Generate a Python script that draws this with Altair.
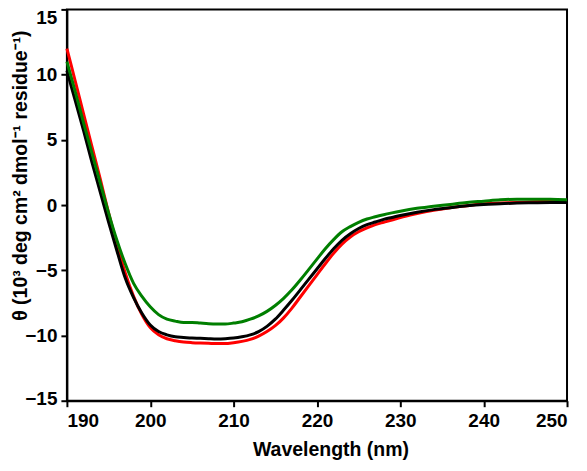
import altair as alt
import pandas as pd

wavelength = [190, 191, 192, 193, 194, 195, 196, 197, 198, 199, 200, 201, 202, 203, 204,
              205, 206, 207, 208, 209, 210, 211, 212, 213, 214, 215, 216, 217, 218, 219,
              220, 221, 222, 223, 224, 225, 226, 227, 228, 229, 230, 232, 234, 236, 238,
              240, 242, 244, 246, 248, 250]

black = [10.3, 8.0, 5.7, 3.3, 1.0, -1.3, -3.5, -5.6, -7.1, -8.3, -9.2, -9.7, -9.95, -10.1,
         -10.15, -10.2, -10.22, -10.25, -10.27, -10.25, -10.2, -10.1, -9.95, -9.7, -9.3,
         -8.75, -8.05, -7.3, -6.5, -5.7, -4.9, -4.1, -3.35, -2.7, -2.2, -1.8, -1.5, -1.3,
         -1.1, -0.95, -0.8, -0.55, -0.35, -0.2, -0.05, 0.05, 0.1, 0.15, 0.18, 0.2, 0.2]

red = [12.0, 9.5, 7.0, 4.5, 2.0, -0.6, -3.0, -5.2, -7.0, -8.4, -9.4, -9.95, -10.25, -10.4,
       -10.5, -10.55, -10.58, -10.6, -10.62, -10.62, -10.55, -10.45, -10.3, -10.05, -9.7,
       -9.25, -8.65, -7.9, -7.05, -6.2, -5.35, -4.5, -3.7, -3.0, -2.45, -2.05, -1.75, -1.5,
       -1.32, -1.15, -0.95, -0.65, -0.4, -0.2, -0.05, 0.1, 0.15, 0.2, 0.25, 0.3, 0.35]

green = [11.0, 8.7, 6.3, 4.0, 1.7, -0.6, -2.7, -4.5, -6.0, -7.0, -7.8, -8.4, -8.75, -8.9,
         -9.0, -9.0, -9.05, -9.1, -9.12, -9.12, -9.05, -8.95, -8.75, -8.5, -8.15, -7.7,
         -7.15, -6.5, -5.75, -4.95, -4.15, -3.35, -2.65, -2.05, -1.65, -1.32, -1.07, -0.9,
         -0.74, -0.6, -0.47, -0.25, -0.1, 0.05, 0.2, 0.3, 0.4, 0.45, 0.45, 0.45, 0.4]

series_names = ["red", "black", "green"]
series_colors = ["#ff0000", "#000000", "#007f00"]
x_ticks = [190, 200, 210, 220, 230, 240, 250]
y_ticks = [-15, -10, -5, 0, 5, 10, 15]

rows = []
for name, vals in zip(series_names, [red, black, green]):
    for i, (w, v) in enumerate(zip(wavelength, vals)):
        rows.append({"wl": w, "theta": v, "series": name, "idx": i})
df = pd.DataFrame(rows)

font = "Liberation Sans"

chart = alt.Chart(df).mark_line(strokeWidth=3, interpolate="monotone").encode(
    x=alt.X("wl:Q",
            scale=alt.Scale(domain=[190, 250], nice=False, zero=False),
            axis=alt.Axis(values=x_ticks, title="Wavelength (nm)", format="d",
                          titleX=264, titleY=55, titleBaseline="alphabetic",
                          titleAlign="center", labelPadding=5)),
    y=alt.Y("theta:Q",
            scale=alt.Scale(domain=[-15, 15], nice=False),
            axis=alt.Axis(values=y_ticks, title="θ (10³ deg cm² dmol⁻¹ residue⁻¹)",
                          titleX=-40, titleY=166, titleBaseline="alphabetic",
                          titleAlign="center", labelPadding=4,
                          labelOffset={"expr": "datum.value == 15 ? 8 : (datum.value == -15 ? -2 : 0)"})),
    color=alt.Color("series:N",
                    scale=alt.Scale(domain=series_names, range=series_colors),
                    legend=None),
    order=alt.Order("idx:Q"),
).properties(
    width=501,
    height=392,
    autosize=alt.AutoSizeParams(type="none"),
    padding={"left": 59, "top": 1, "right": 12, "bottom": 66},
).configure_view(
    stroke="black", strokeWidth=2
).configure_axis(
    grid=False,
    domainColor="black", domainWidth=2,
    tickColor="black", tickWidth=2, tickSize=6,
    labelFont=font, labelFontWeight="bold", labelFontSize=19, labelColor="black",
    titleFont=font, titleFontWeight="bold", titleFontSize=19.5, titleColor="black",
)

chart.save("out.html", embed_options={"renderer": "svg", "actions": False})
